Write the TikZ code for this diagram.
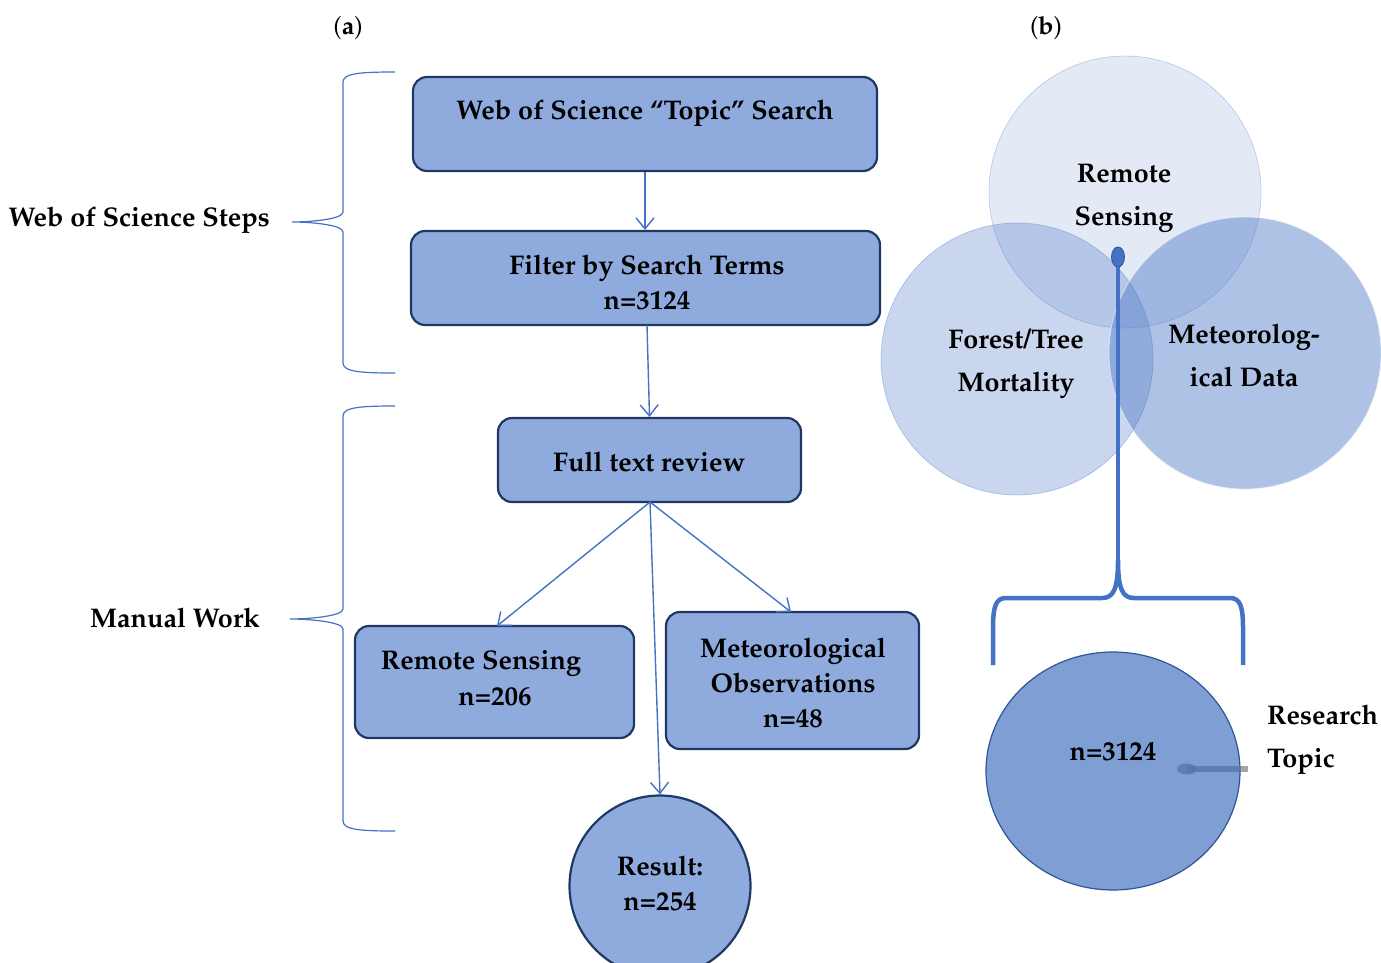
\documentclass[tikz,border=0pt]{standalone}
\usepackage[T1]{fontenc}
\renewcommand{\rmdefault}{ppl}
\usetikzlibrary{arrows.meta,shapes.geometric}
\definecolor{boxfill}{HTML}{8FAADC}
\definecolor{boxdraw}{HTML}{1F3864}
\definecolor{accent}{HTML}{4472C4}
\definecolor{topicfill}{HTML}{7F9ED4}
\definecolor{topicdraw}{HTML}{2F5597}
\begin{document}
\begin{tikzpicture}[x=1pt,y=-1pt,
  every node/.style={font=\fontsize{27}{33}\selectfont\bfseries, align=center, inner sep=0pt},
  flowbox/.style={draw=boxdraw, fill=boxfill, line width=2.2pt, rounded corners=14pt, minimum width=#1},
  flowarrow/.style={draw=accent, line width=1.4pt, -{Straight Barb[length=11pt,width=18pt,line width=1.4pt]}},
  bracepath/.style={draw=accent, line width=1.2pt},
  venn/.style={fill=accent, draw=accent, draw opacity=0.25},
  thickblue/.style={draw=accent, line width=4.5pt}
]
\useasboundingbox (0,0) rectangle (1381,962);

% panel labels
\node[font=\fontsize{25}{30}\selectfont] (la) at (348,28) {(\textbf{a})};
\node[font=\fontsize{25}{30}\selectfont] (lb) at (1046,28) {(\textbf{b})};

% ---------- panel (a) ----------
\node[flowbox=464pt, minimum height=94pt] (b1) at (645,124) {};
\node (b1t) at (645,113) {Web of Science ``Topic'' Search};

\node[flowbox=469pt, minimum height=94pt] (b2) at (645.5,278) {};
\node (b2t) at (647,282) {Filter by Search Terms\\[2pt] n=3124};

\node[flowbox=303pt, minimum height=84pt] (b3) at (649.5,460) {};
\node (b3t) at (649,462) {Full text review};

\node[flowbox=279pt, minimum height=112pt] (b4) at (494.5,682) {};
\node (b4a) at (481,663) {Remote Sensing};
\node (b4b) at (495,697) {n=206};

\node[flowbox=253pt, minimum height=137pt] (b5) at (792.5,680.5) {};
\node (b5t) at (793,683) {Meteorological\\[2pt] Observations\\[2pt] n=48};

\node[circle, draw=boxdraw, fill=boxfill, line width=2.2pt, minimum size=181pt] (res) at (660,886) {};
\node (rest) at (660,883) {Result:\\[2pt] n=254};

\coordinate (b3b) at (650,502);
\draw[flowarrow] (b1.south) -- (b1.south |- b2.north);
\draw[flowarrow] (647,325) -- (b3.north);
\draw[flowarrow] (b3b) -- (497,626);
\draw[flowarrow] (b3b) -- (791,612);
\draw[flowarrow] (b3b) -- (res.north);

% braces
\node[anchor=east] (ws) at (270,220) {Web of Science Steps};
\coordinate (t1) at (292,222);
\draw[bracepath] (395,72) .. controls (362,72) and (343,73) .. (343,82) -- (343,212)
  .. controls (343,219) and (312,222) .. (t1)
  .. controls (312,222) and (343,225) .. (343,232) -- (343,363)
  .. controls (343,372) and (362,373) .. (395,373);

\node[anchor=east] (mw) at (260,618) {Manual Work};
\coordinate (t2) at (290,619);
\draw[bracepath] (395,406) .. controls (362,406) and (343,407) .. (343,416) -- (343,609)
  .. controls (343,616) and (310,619) .. (t2)
  .. controls (310,619) and (343,622) .. (343,629) -- (343,821)
  .. controls (343,830) and (362,831) .. (395,831);

% ---------- panel (b) ----------
\fill[venn, fill opacity=0.15] (1125,192) circle[radius=136pt];
\fill[venn, fill opacity=0.29] (1017,359) circle[radius=136pt];
\fill[venn, fill opacity=0.43] (1245,353) circle[radius=136pt];
\draw[accent, opacity=0.15, line width=0.8pt] (1125,192) circle[radius=136pt];
\draw[accent, opacity=0.2, line width=0.8pt] (1017,359) circle[radius=136pt];
\draw[white, opacity=0.6, line width=0.8pt] (1245,353) circle[radius=136pt];

\node (rs) at (1124,198) {Remote\\[10pt] Sensing};
\node (ft) at (1016,364) {Forest/Tree\\[10pt] Mortality};
\node (md) at (1244,355) {Meteorolog-\\[10pt] ical Data};

% pin and brace
\coordinate (tip) at (1118,560);
\node[ellipse, fill=accent, draw=topicdraw, line width=0.8pt, minimum width=13pt, minimum height=20pt] (pin) at (1118,257) {};
\draw[thickblue] (pin.south) -- (tip);
\draw[thickblue, line join=round] (993,665) -- (993,628)
  .. controls (993,606) and (996,598) .. (1006,598) -- (1102,598)
  .. controls (1113,598) and (1118,590) .. (tip)
  .. controls (1118,590) and (1123,598) .. (1134,598) -- (1230,598)
  .. controls (1240,598) and (1243,606) .. (1243,628) -- (1243,665);

\node[ellipse, fill=topicfill, draw=topicdraw, line width=1.2pt, minimum width=254pt, minimum height=238pt] (topic) at (1113,771) {};
\node (n3124) at (1113,752) {n=3124};

\node[ellipse, fill=accent!70!gray, fill opacity=0.8, minimum width=20pt, minimum height=11pt] (rpin) at (1187,769) {};
\draw[line width=6pt, accent!70!gray, opacity=0.8] (rpin.center) -- (topic.east |- rpin.center);
\draw[line width=6pt, gray!70] (topic.east |- rpin.center) -- (1248,769);
\node[anchor=west, align=left] (rt) at (1267,740) {Research\\[10pt] Topic};
\end{tikzpicture}
\end{document}
